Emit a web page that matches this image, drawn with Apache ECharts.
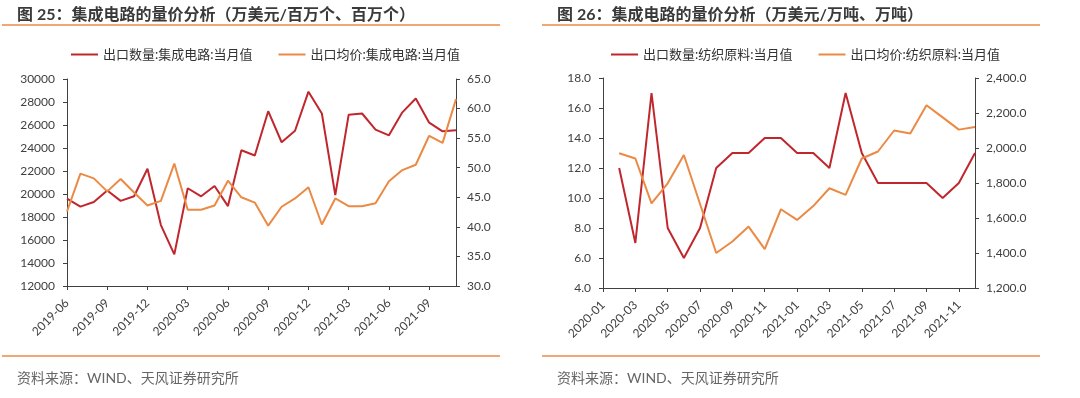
<!DOCTYPE html>
<html>
<head>
<meta charset="utf-8">
<script src="https://cdn.jsdelivr.net/npm/echarts@6/dist/echarts.min.js"></script>
<style>
  html, body { margin: 0; padding: 0; background: #fff; }
  #main { width: 1080px; height: 398px; }
</style>
</head>
<body>
<div id="main"></div>
<script>
// ---- left chart: 集成电路 (2019-06 ~ 2021-11) ----
const monthsA = ['2019-06','2019-07','2019-08','2019-09','2019-10','2019-11','2019-12',
  '2020-01','2020-02','2020-03','2020-04','2020-05','2020-06','2020-07','2020-08','2020-09','2020-10','2020-11','2020-12',
  '2021-01','2021-02','2021-03','2021-04','2021-05','2021-06','2021-07','2021-08','2021-09','2021-10','2021-11'];
const qtyA = [19600, 18900, 19300, 20300, 19400, 19800, 22200, 17300, 14750, 20500,
  19800, 20700, 18950, 23800, 23350, 27200, 24500, 25500, 28900, 27000,
  19900, 26900, 27000, 25600, 25100, 27100, 28300, 26200, 25450, 25550];
const priceA = [42.6, 49.0, 48.2, 46.0, 48.1, 45.8, 43.6, 44.4, 50.7, 42.9,
  42.9, 43.6, 47.8, 45.0, 44.1, 40.2, 43.4, 44.8, 46.7, 40.4,
  44.8, 43.5, 43.5, 44.0, 47.7, 49.6, 50.5, 55.4, 54.2, 61.6];

// ---- right chart: 纺织原料 (2020-01 ~ 2021-12, 1月无数据) ----
const monthsB = ['2020-01','2020-02','2020-03','2020-04','2020-05','2020-06','2020-07','2020-08','2020-09','2020-10','2020-11','2020-12',
  '2021-01','2021-02','2021-03','2021-04','2021-05','2021-06','2021-07','2021-08','2021-09','2021-10','2021-11','2021-12'];
const qtyB = [null, 12, 7, 17, 8, 6, 8, 12, 13, 13, 14, 14,
  13, 13, 12, 17, 13, 11, 11, 11, 11, 10, 11, 13];
const priceB = [null, 1970, 1940, 1684, 1798, 1960, 1680, 1400, 1466, 1551, 1422, 1650,
  1589, 1668, 1770, 1732, 1940, 1980, 2100, 2083, 2244, 2175, 2105, 2120];

const RED = '#c0272d';
const ORANGE = '#eb8a44';
const AXIS = '#404040';
const FONT = 'Lato, "Noto Sans CJK SC", sans-serif';

let chart = echarts.init(document.getElementById('main'));

function yAxis(grid, pos, min, max, interval, fmt, margin) {
    return {
        type: 'value', gridIndex: grid, position: pos,
        min: min, max: max, interval: interval,
        axisLine: {show: true, lineStyle: {color: AXIS, width: 1}},
        axisTick: {show: true, length: 4, lineStyle: {color: AXIS}},
        splitLine: {show: false},
        axisLabel: {color: AXIS, fontSize: 12, fontFamily: FONT, margin: margin, formatter: fmt}
    };
}

function xAxis(grid, data, every) {
    return {
        type: 'category', gridIndex: grid, data: data, boundaryGap: false,
        axisLine: {show: true, lineStyle: {color: AXIS, width: 1}},
        axisTick: {show: true, length: 4, interval: every, lineStyle: {color: AXIS}},
        axisLabel: {color: AXIS, fontSize: 12, fontFamily: FONT, rotate: 45, margin: 15, interval: every}
    };
}

function line(name, x, y, data, color) {
    return {
        name: name, type: 'line', xAxisIndex: x, yAxisIndex: y, data: data,
        symbol: 'none', connectNulls: false,
        lineStyle: {color: color, width: 2}, itemStyle: {color: color}
    };
}

const titleStyle = {color: '#3a3a3a', fontSize: 16, fontWeight: 'bold', fontFamily: FONT};
const srcStyle = {color: '#666', fontSize: 14, fontWeight: 'normal', fontFamily: FONT};

let option = {
    animation: false,
    backgroundColor: '#fff',
    title: [
        {text: '图 25：集成电路的量价分析（万美元/百万个、百万个）', left: 12, top: 2, textStyle: titleStyle},
        {text: '图 26：集成电路的量价分析（万美元/万吨、万吨）', left: 552, top: 2, textStyle: titleStyle},
        {text: '资料来源：WIND、天风证券研究所', left: 12, top: 366, textStyle: srcStyle},
        {text: '资料来源：WIND、天风证券研究所', left: 552, top: 366, textStyle: srcStyle}
    ],
    legend: [
        {
            data: ['出口数量:集成电路:当月值', '出口均价:集成电路:当月值'],
            left: 66, top: 43, icon: 'rect', itemWidth: 27, itemHeight: 2, itemGap: 26,
            textStyle: {color: '#333', fontSize: 13, fontFamily: FONT}
        },
        {
            data: ['出口数量:纺织原料:当月值', '出口均价:纺织原料:当月值'],
            left: 606, top: 43, icon: 'rect', itemWidth: 27, itemHeight: 2, itemGap: 26,
            textStyle: {color: '#333', fontSize: 13, fontFamily: FONT}
        }
    ],
    graphic: [
        {type: 'line', shape: {x1: 2, y1: 25, x2: 500, y2: 25}, style: {stroke: ORANGE, lineWidth: 1.5}},
        {type: 'line', shape: {x1: 542, y1: 25, x2: 1040, y2: 25}, style: {stroke: ORANGE, lineWidth: 1.5}},
        {type: 'line', shape: {x1: 2, y1: 356, x2: 500, y2: 356}, style: {stroke: ORANGE, lineWidth: 1.5}},
        {type: 'line', shape: {x1: 542, y1: 356, x2: 1040, y2: 356}, style: {stroke: ORANGE, lineWidth: 1.5}}
    ],
    grid: [
        {left: 67, top: 79, width: 389, height: 207},
        {left: 603, top: 78, width: 372, height: 210}
    ],
    xAxis: [
        xAxis(0, monthsA, 2),
        xAxis(1, monthsB, 1)
    ],
    yAxis: [
        yAxis(0, 'left', 12000, 30000, 2000, v => String(v), 12),
        yAxis(0, 'right', 30, 65, 5, v => v.toFixed(1), 11),
        yAxis(1, 'left', 4, 18, 2, v => v.toFixed(1), 12),
        yAxis(1, 'right', 1200, 2400, 200,
            v => v.toLocaleString('en-US', {minimumFractionDigits: 1, maximumFractionDigits: 1}), 11)
    ],
    series: [
        line('出口数量:集成电路:当月值', 0, 0, qtyA, RED),
        line('出口均价:集成电路:当月值', 0, 1, priceA, ORANGE),
        line('出口数量:纺织原料:当月值', 1, 2, qtyB, RED),
        line('出口均价:纺织原料:当月值', 1, 3, priceB, ORANGE)
    ]
};

chart.setOption(option);
</script>
</body>
</html>
